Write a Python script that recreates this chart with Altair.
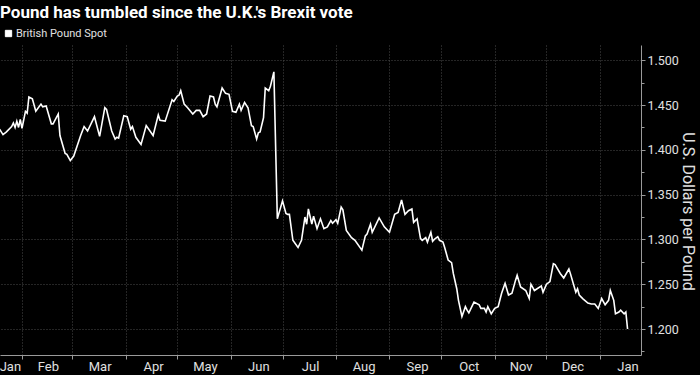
import altair as alt
import pandas as pd

# ---- data ----
dates = [
    "2016-01-19", "2016-01-21", "2016-01-23", "2016-01-26", "2016-01-27", "2016-01-28",
    "2016-01-29", "2016-01-30", "2016-01-31", "2016-02-01", "2016-02-03", "2016-02-04",
    "2016-02-05", "2016-02-07", "2016-02-09", "2016-02-12", "2016-02-13", "2016-02-15",
    "2016-02-18", "2016-02-19", "2016-02-22", "2016-02-23", "2016-02-26", "2016-02-27",
    "2016-02-29", "2016-03-02", "2016-03-06", "2016-03-08", "2016-03-10", "2016-03-14",
    "2016-03-17", "2016-03-20", "2016-03-21", "2016-03-24", "2016-03-26", "2016-03-27",
    "2016-03-28", "2016-03-31", "2016-04-02", "2016-04-04", "2016-04-05", "2016-04-07",
    "2016-04-10", "2016-04-13", "2016-04-17", "2016-04-20", "2016-04-21", "2016-04-24",
    "2016-04-28", "2016-04-29", "2016-05-01", "2016-05-02", "2016-05-03", "2016-05-05",
    "2016-05-07", "2016-05-10", "2016-05-12", "2016-05-14", "2016-05-16", "2016-05-18",
    "2016-05-20", "2016-05-22", "2016-05-23", "2016-05-24", "2016-05-27", "2016-05-29",
    "2016-05-31", "2016-06-02", "2016-06-04", "2016-06-06", "2016-06-07", "2016-06-09",
    "2016-06-11", "2016-06-13", "2016-06-14", "2016-06-16", "2016-06-17", "2016-06-18",
    "2016-06-20", "2016-06-21", "2016-06-23", "2016-06-24", "2016-06-26", "2016-06-28",
    "2016-07-01", "2016-07-03", "2016-07-04", "2016-07-05", "2016-07-07", "2016-07-10",
    "2016-07-12", "2016-07-14", "2016-07-15", "2016-07-16", "2016-07-18", "2016-07-19",
    "2016-07-21", "2016-07-23", "2016-07-25", "2016-07-27", "2016-07-29", "2016-07-30",
    "2016-08-01", "2016-08-02", "2016-08-04", "2016-08-05", "2016-08-07", "2016-08-10",
    "2016-08-12", "2016-08-16", "2016-08-18", "2016-08-19", "2016-08-21", "2016-08-22",
    "2016-08-26", "2016-08-29", "2016-09-01", "2016-09-04", "2016-09-06", "2016-09-08",
    "2016-09-10", "2016-09-12", "2016-09-14", "2016-09-15", "2016-09-17", "2016-09-19",
    "2016-09-20", "2016-09-22", "2016-09-23", "2016-09-25", "2016-09-26", "2016-09-27",
    "2016-09-29", "2016-09-30", "2016-10-02", "2016-10-03", "2016-10-05", "2016-10-07",
    "2016-10-08", "2016-10-10", "2016-10-11", "2016-10-13", "2016-10-15", "2016-10-16",
    "2016-10-17", "2016-10-20", "2016-10-23", "2016-10-24", "2016-10-26", "2016-10-27",
    "2016-10-28", "2016-10-30", "2016-11-01", "2016-11-03", "2016-11-05", "2016-11-07",
    "2016-11-09", "2016-11-11", "2016-11-13", "2016-11-14", "2016-11-16", "2016-11-19",
    "2016-11-21", "2016-11-22", "2016-11-24", "2016-11-28", "2016-11-29", "2016-12-01",
    "2016-12-03", "2016-12-05", "2016-12-06", "2016-12-09", "2016-12-11", "2016-12-14",
    "2016-12-15", "2016-12-18", "2016-12-19", "2016-12-20", "2016-12-22", "2016-12-25",
    "2016-12-27", "2016-12-29", "2016-12-31", "2017-01-02", "2017-01-04", "2017-01-06",
    "2017-01-07", "2017-01-09", "2017-01-10", "2017-01-12", "2017-01-13", "2017-01-15",
    "2017-01-16", "2017-01-17",
]
gbp_usd = [
    1.423, 1.417, 1.420, 1.426, 1.430, 1.425,
    1.432, 1.425, 1.434, 1.424, 1.443, 1.441,
    1.459, 1.457, 1.443, 1.451, 1.448, 1.449,
    1.429, 1.429, 1.440, 1.416, 1.396, 1.395,
    1.388, 1.393, 1.416, 1.426, 1.421, 1.437,
    1.415, 1.447, 1.445, 1.421, 1.412, 1.414,
    1.413, 1.438, 1.437, 1.423, 1.426, 1.414,
    1.406, 1.427, 1.416, 1.439, 1.433, 1.432,
    1.456, 1.454, 1.460, 1.461, 1.466, 1.451,
    1.447, 1.440, 1.444, 1.444, 1.437, 1.440,
    1.460, 1.459, 1.451, 1.448, 1.469, 1.463,
    1.462, 1.443, 1.442, 1.451, 1.444, 1.453,
    1.447, 1.427, 1.426, 1.412, 1.419, 1.420,
    1.436, 1.469, 1.466, 1.471, 1.487, 1.323,
    1.343, 1.329, 1.328, 1.328, 1.299, 1.291,
    1.299, 1.325, 1.317, 1.334, 1.317, 1.326,
    1.312, 1.323, 1.312, 1.314, 1.321, 1.318,
    1.322, 1.318, 1.336, 1.333, 1.310, 1.302,
    1.299, 1.288, 1.304, 1.306, 1.317, 1.308,
    1.324, 1.314, 1.308, 1.328, 1.330, 1.344,
    1.328, 1.332, 1.334, 1.319, 1.323, 1.301,
    1.299, 1.302, 1.297, 1.308, 1.298, 1.300,
    1.303, 1.299, 1.297, 1.291, 1.277, 1.274,
    1.262, 1.245, 1.232, 1.214, 1.225, 1.221,
    1.218, 1.230, 1.227, 1.223, 1.223, 1.219,
    1.225, 1.217, 1.223, 1.225, 1.240, 1.251,
    1.238, 1.240, 1.254, 1.260, 1.247, 1.243,
    1.234, 1.250, 1.243, 1.248, 1.241, 1.250,
    1.253, 1.273, 1.272, 1.262, 1.257, 1.267,
    1.261, 1.241, 1.245, 1.238, 1.234, 1.229,
    1.228, 1.228, 1.223, 1.234, 1.227, 1.232,
    1.243, 1.232, 1.217, 1.219, 1.221, 1.217,
    1.219, 1.200,
]
series_name = "British Pound Spot"
title_text = "Pound has tumbled since the U.K.'s Brexit vote"
y_title = "U.S. Dollars per Pound"

month_starts = ["2016-02-01", "2016-03-01", "2016-04-01", "2016-05-01", "2016-06-01",
                "2016-07-01", "2016-08-01", "2016-09-01", "2016-10-01", "2016-11-01",
                "2016-12-01", "2017-01-01"]
month_label_dates = ["2016-01-25", "2016-02-16", "2016-03-17", "2016-04-17", "2016-05-17",
                     "2016-06-17", "2016-07-17", "2016-08-17", "2016-09-17", "2016-10-17",
                     "2016-11-16", "2016-12-16", "2017-01-17"]
x_domain = [("2016-01-19", 6), ("2017-01-24", 19)]
y_major = [1.200, 1.250, 1.300, 1.350, 1.400, 1.450, 1.500]
y_minor = [1.175, 1.225, 1.275, 1.325, 1.375, 1.425, 1.475]
y_domain = [1.171, 1.517]


def dt(s, hour=0):
    y, m, d = map(int, s.split("-"))
    return alt.DateTime(year=y, month=m, date=d, hours=hour, utc=True)


df = pd.DataFrame({"date": dates, "value": gbp_usd, "series": series_name})

FONT = "Liberation Sans Narrow, Arial Narrow, Roboto, sans-serif"
GRID = "#4a4a4a"
AXIS = "#9a9a9a"
TXT = "#e0e0e0"

x_scale = alt.Scale(type="utc", domain=[dt(d, h) for d, h in x_domain])
y_scale = alt.Scale(domain=y_domain, nice=False, zero=False)

line = alt.Chart(df).mark_line(strokeWidth=1.6, clip=True).encode(
    x=alt.X("date:T", scale=x_scale,
            axis=alt.Axis(orient="bottom", values=[dt(d) for d in month_starts],
                          labels=False, grid=True, gridColor=GRID, gridDash=[1, 2],
                          ticks=True, tickSize=4, tickColor=AXIS,
                          domain=True, domainColor=AXIS, title=None)),
    y=alt.Y("value:Q", scale=y_scale,
            axis=alt.Axis(orient="right", values=y_major, format=".3f",
                          grid=True, gridColor=GRID, gridDash=[1, 2],
                          ticks=True, tickSize=4, tickColor=AXIS,
                          domain=True, domainColor=AXIS,
                          labelFont=FONT, labelFontSize=12.5, labelColor=TXT,
                          labelPadding=2,
                          title=y_title, titleFont=FONT, titleFontSize=16,
                          titleFontWeight="normal", titleColor=TXT, titlePadding=1,
                          titleY=166)),
    color=alt.Color("series:N",
                    scale=alt.Scale(domain=[series_name], range=["#ffffff"]),
                    legend=alt.Legend(title=None, orient="none", legendX=3, legendY=-17,
                                      symbolType="square", symbolSize=40,
                                      symbolFillColor="#ffffff", symbolStrokeColor="#ffffff",
                                      symbolStrokeWidth=1, labelFont=FONT,
                                      labelFontSize=11, labelColor=TXT, labelOffset=2,
                                      padding=0)),
)

labels_layer = alt.Chart(df).mark_line(opacity=0).encode(
    x=alt.X("date:T", scale=x_scale,
            axis=alt.Axis(orient="bottom", values=[dt(d) for d in month_label_dates],
                          labelExpr="utcFormat(datum.value, '%b')",
                          grid=False, ticks=False, tickSize=0, domain=False,
                          labelFont=FONT, labelFontSize=13, labelColor=TXT,
                          labelPadding=5, title=None)),
    y=alt.Y("value:Q", scale=y_scale, axis=None),
)

minor_layer = alt.Chart(df).mark_line(opacity=0).encode(
    x=alt.X("date:T", scale=x_scale, axis=None),
    y=alt.Y("value:Q", scale=y_scale,
            axis=alt.Axis(orient="right", values=y_minor, labels=False, grid=False,
                          ticks=True, tickSize=3, tickColor=AXIS, domain=False,
                          title=None)),
)

chart = alt.layer(line, labels_layer, minor_layer).resolve_axis(
    x="independent", y="independent"
).properties(
    width=641, height=310,
    title=alt.TitleParams(title_text, anchor="start", frame="group", font=FONT,
                          fontSize=17, fontWeight="bold", color="#ffffff", offset=6),
    padding={"left": 0, "top": 45, "right": 59, "bottom": 20},
    autosize=alt.AutoSizeParams(type="none"),
).configure(
    background="#000000",
).configure_view(
    stroke=None,
)

chart.save("out.html", embed_options={"renderer": "svg", "actions": False})
